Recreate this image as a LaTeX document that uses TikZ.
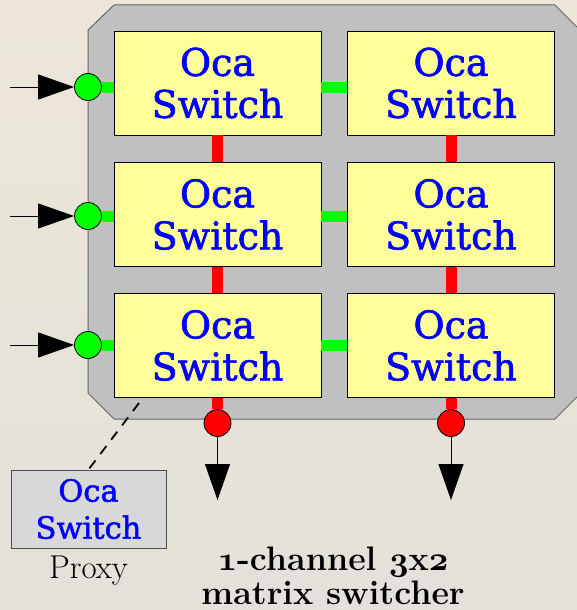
\documentclass[tikz,border=0pt]{standalone}
\usepackage{fontspec}
\usetikzlibrary{arrows.meta,positioning}
\newfontfamily\ocafont{DejaVu Serif}[FakeBold=1.6]
\DeclareFontFamily{OML}{oscmm}{\skewchar\font=127}
\DeclareFontShape{OML}{oscmm}{b}{it}{<->cmmib10}{}
\newcommand{\osnum}[1]{{\usefont{OML}{oscmm}{b}{it}#1}}
\definecolor{bgtop}{RGB}{235,230,216}
\definecolor{bgbot}{RGB}{227,225,217}
\definecolor{panelgray}{RGB}{192,192,192}
\definecolor{ocayellow}{RGB}{255,255,153}
\definecolor{ocablue}{RGB}{0,0,255}
\definecolor{ocagreen}{RGB}{0,255,0}
\definecolor{ocared}{RGB}{255,0,0}
\definecolor{proxygray}{RGB}{216,216,216}
\tikzset{
  panel/.style={draw=black!60, line width=1pt, fill=panelgray},
  ocabox/.style={draw=black, line width=0.8pt, fill=ocayellow, minimum width=207pt,
    minimum height=104pt, inner sep=0pt, align=center, text=ocablue,
    font=\ocafont\fontsize{38}{42}\selectfont},
  proxybox/.style={draw=black!70, line width=0.8pt, fill=proxygray, minimum width=155pt,
    minimum height=78pt, inner sep=0pt, align=center, text=ocablue,
    font=\ocafont\fontsize{30.5}{37}\selectfont},
  incirc/.style={circle, draw=black, line width=0.8pt, fill=ocagreen, minimum size=27pt, inner sep=0pt},
  outcirc/.style={circle, draw=black, line width=0.8pt, fill=ocared, minimum size=27pt, inner sep=0pt},
  gbar/.style={draw=ocagreen, line width=11pt},
  rbar/.style={draw=ocared, line width=11pt},
  arr/.style={-{Triangle[length=36pt,width=25pt]}, line width=1pt},
  proxylink/.style={line width=1.8pt, dash pattern=on 10pt off 8pt},
  title/.style={align=center, inner sep=0pt, font=\bfseries\fontsize{34}{34}\selectfont}
}
\begin{document}
\begin{tikzpicture}[x=1pt, y=-1pt]
\useasboundingbox (0,0) rectangle (577,610);
% sfondo
\shade[top color=bgtop, bottom color=bgbot] (0,0) rectangle (577,610);
% pannello
\draw[panel] (114,5) -- (555,5) -- (580,30) -- (580,394) -- (555,419) -- (114,419) -- (88,393) -- (88,30) -- cycle;
% matrice 3x2
\node[ocabox] (b11) at (217.5,83) {Oca\\Switch};
\node[ocabox] (b12) at (451,83) {Oca\\Switch};
\node[ocabox] (b21) at (217.5,214.5) {Oca\\Switch};
\node[ocabox] (b22) at (451,214.5) {Oca\\Switch};
\node[ocabox] (b31) at (217.5,345.5) {Oca\\Switch};
\node[ocabox] (b32) at (451,345.5) {Oca\\Switch};
% ingressi
\node[incirc] (in1) at (88,87) {};
\node[incirc] (in2) at (88,216) {};
\node[incirc] (in3) at (88,345) {};
\coordinate (src1) at (10,87);
\coordinate (src2) at (10,216);
\coordinate (src3) at (10,345);
\draw[arr] (src1) -- (in1.west);
\draw[arr] (src2) -- (in2.west);
\draw[arr] (src3) -- (in3.west);
\draw[gbar] (in1.east) -- (in1 -| b11.west);
\draw[gbar] (in2.east) -- (in2 -| b21.west);
\draw[gbar] (in3.east) -- (in3 -| b31.west);
\draw[gbar] (in1 -| b11.east) -- (in1 -| b12.west);
\draw[gbar] (in2 -| b21.east) -- (in2 -| b22.west);
\draw[gbar] (in3 -| b31.east) -- (in3 -| b32.west);
% uscite
\draw[rbar] (b11.south) -- (b21.north);
\draw[rbar] (b21.south) -- (b31.north);
\draw[rbar] (b12.south) -- (b22.north);
\draw[rbar] (b22.south) -- (b32.north);
\node[outcirc] (out1) at (217.5,423) {};
\node[outcirc] (out2) at (451,423) {};
\draw[rbar] (b31.south) -- (out1.north);
\draw[rbar] (b32.south) -- (out2.north);
\coordinate (dst1) at (217.5,500);
\coordinate (dst2) at (451,500);
\draw[arr] (out1.south) -- (dst1);
\draw[arr] (out2.south) -- (dst2);
% proxy
\node[proxybox] (proxy) at (88.5,509) {Oca\\Switch};
\node[below=7pt of proxy, inner sep=0pt, font=\fontsize{33}{35}\selectfont] (plbl) {Proxy};
\coordinate (tap) at (139,403);
\draw[proxylink] (tap) -- (proxy.north);
% titolo
\node[title] (ttl) at (333,576) {\osnum{1}-channel \osnum{3}x\osnum{2}\\matrix switcher};
\end{tikzpicture}
\end{document}
